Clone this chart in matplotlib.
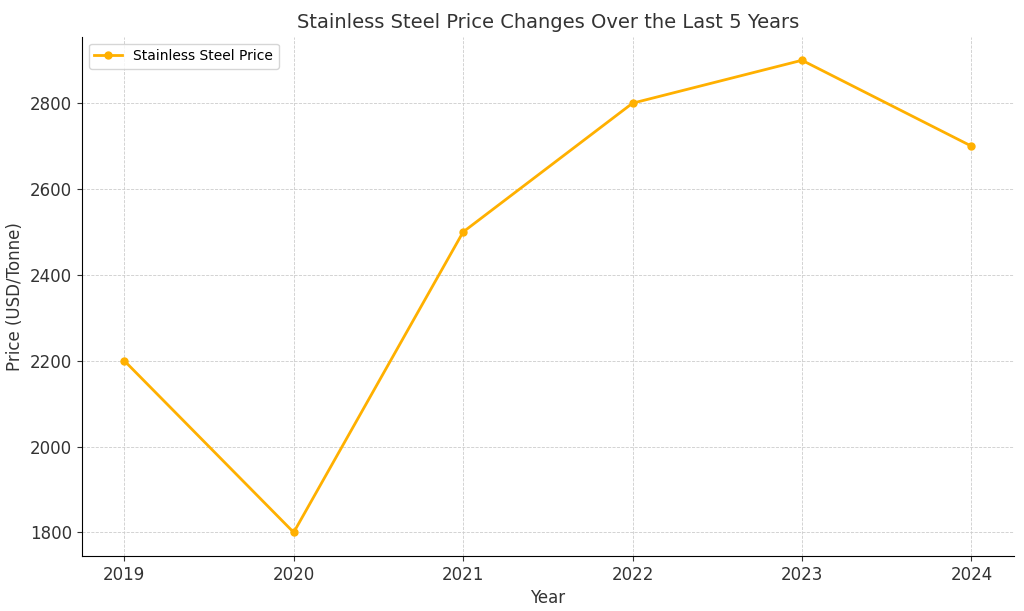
import matplotlib
matplotlib.use("Agg")
import matplotlib.pyplot as plt

years = [2019, 2020, 2021, 2022, 2023, 2024]
prices = [2200, 1800, 2500, 2800, 2900, 2700]

fig, ax = plt.subplots(figsize=(10.24, 6.11), dpi=100)
ax.plot(years, prices, marker='o', color='#FFB000', linewidth=2, markersize=5,
        label='Stainless Steel Price')
ax.set_title('Stainless Steel Price Changes Over the Last 5 Years', fontsize=14, color='#333333')
ax.set_xlabel('Year', fontsize=12, color='#333333')
ax.set_ylabel('Price (USD/Tonne)', fontsize=12, color='#333333')
ax.set_yticks([1800, 2000, 2200, 2400, 2600, 2800])
ax.tick_params(labelsize=12, colors='#333333')
ax.grid(True, linestyle='--', linewidth=0.6, color='#cccccc')
ax.spines['top'].set_visible(False)
ax.spines['right'].set_visible(False)
ax.legend(loc='upper left', fontsize=10)
fig.subplots_adjust(left=0.08, right=0.99, top=0.94, bottom=0.09)
fig.savefig('out.png')
